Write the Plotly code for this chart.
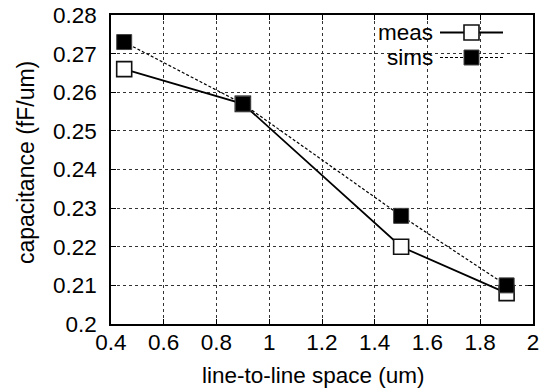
import plotly.graph_objects as go

# ---- data ----
x_space = [0.45, 0.9, 1.5, 1.9]
meas = [0.266, 0.257, 0.220, 0.208]
sims = [0.273, 0.257, 0.228, 0.210]
series_names = ["meas", "sims"]
x_title = "line-to-line space (um)"
y_title = "capacitance (fF/um)"
x_ticks = [0.4, 0.6, 0.8, 1.0, 1.2, 1.4, 1.6, 1.8, 2.0]
x_ticklabels = ["0.4", "0.6", "0.8", "1", "1.2", "1.4", "1.6", "1.8", "2"]
y_ticks = [0.20, 0.21, 0.22, 0.23, 0.24, 0.25, 0.26, 0.27, 0.28]
y_ticklabels = ["0.2", "0.21", "0.22", "0.23", "0.24", "0.25", "0.26", "0.27", "0.28"]

FONT = "Liberation Sans, Arial, Helvetica, sans-serif"
FS = 22.5
W, H = 542, 389
ML, MR, MT, MB = 111, 9, 15, 65
PW, PH = W - ML - MR, H - MT - MB

def px_x(p):
    return (p - ML) / PW

def px_y(p):
    return 1 - (p - MT) / PH

meas_style = dict(line=dict(color="black", width=1.8),
                  marker=dict(symbol="square", size=15, color="white",
                              line=dict(color="#111", width=1.6)))
sims_style = dict(line=dict(color="black", width=1.2, dash="3px,2px"),
                  marker=dict(symbol="square", size=15, color="black",
                              line=dict(color="#444", width=1)))

fig = go.Figure()
fig.add_trace(go.Scatter(x=x_space, y=meas, mode="lines+markers", name=series_names[0],
                         **meas_style))
fig.add_trace(go.Scatter(x=x_space, y=sims, mode="lines+markers", name=series_names[1],
                         **sims_style))

axis_common = dict(showline=True, linecolor="black", linewidth=1.5, mirror="ticks",
                   ticks="inside", ticklen=5, tickwidth=1, tickcolor="black",
                   showgrid=True, gridcolor="#333", gridwidth=1, griddash="dot",
                   zeroline=False, automargin=False,
                   tickfont=dict(family=FONT, size=FS, color="black"))

fig.update_xaxes(range=[0.4, 2.0], tickvals=x_ticks, ticktext=x_ticklabels,
                 ticklabelstandoff=-3, **axis_common)
fig.update_yaxes(range=[0.20, 0.28], tickvals=y_ticks, ticktext=y_ticklabels,
                 ticklabelstandoff=8, **axis_common)

shapes = []
annotations = []
# legend background
shapes.append(dict(type="rect", xref="paper", yref="paper", layer="between",
                   x0=px_x(367), x1=px_x(518), y0=px_y(68), y1=px_y(21),
                   fillcolor="white", line=dict(width=0)))
legend_rows = [(series_names[0], 32.5, meas_style), (series_names[1], 57.5, sims_style)]
for name, ypix, st in legend_rows:
    yp = px_y(ypix)
    shapes.append(dict(type="line", xref="paper", yref="paper", layer="above",
                       x0=px_x(440), x1=px_x(503), y0=yp, y1=yp,
                       line=dict(color=st["line"]["color"], width=st["line"]["width"],
                                 dash=st["line"].get("dash", "solid"))))
    half = st["marker"]["size"] / 2
    shapes.append(dict(type="rect", xref="paper", yref="paper", layer="above",
                       xsizemode="pixel", ysizemode="pixel",
                       xanchor=px_x(471.5), yanchor=yp,
                       x0=-half, x1=half, y0=-half, y1=half,
                       fillcolor=st["marker"]["color"],
                       line=dict(color=st["marker"]["line"]["color"],
                                 width=st["marker"]["line"]["width"])))
    annotations.append(dict(text=name, xref="paper", yref="paper", x=px_x(435), y=yp,
                            xanchor="right", yanchor="middle", showarrow=False,
                            font=dict(family=FONT, size=FS, color="black")))

annotations.append(dict(text=x_title, xref="paper", yref="paper", x=px_x(313), y=px_y(361),
                        xanchor="center", yanchor="top", showarrow=False,
                        font=dict(family=FONT, size=FS, color="black")))
annotations.append(dict(text=y_title, xref="paper", yref="paper", x=px_x(26), y=px_y(163),
                        xanchor="center", yanchor="middle", textangle=-90, showarrow=False,
                        font=dict(family=FONT, size=23, color="black")))

fig.update_layout(template="none", width=W, height=H,
                  margin=dict(l=ML, r=MR, t=MT, b=MB, autoexpand=False),
                  paper_bgcolor="white", plot_bgcolor="white", showlegend=False,
                  shapes=shapes, annotations=annotations,
                  font=dict(family=FONT, size=FS, color="black"))

fig.write_html("out.html")
